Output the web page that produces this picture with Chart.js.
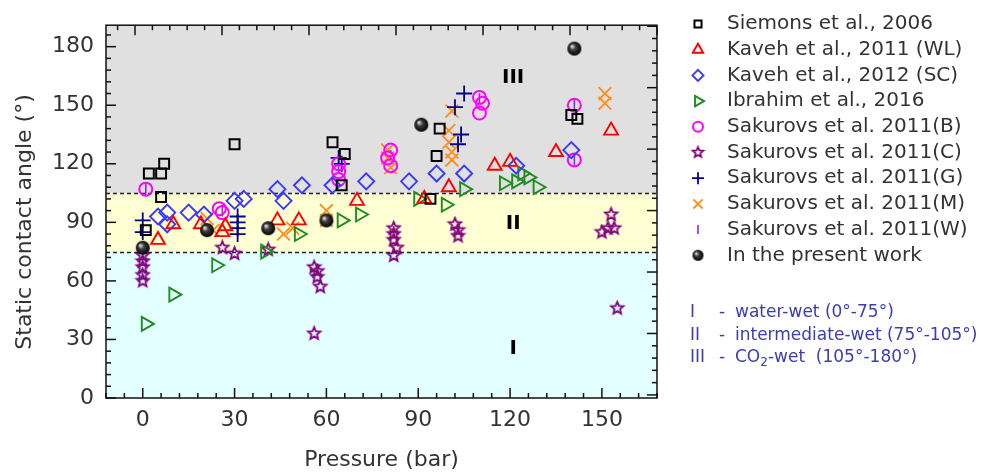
<!DOCTYPE html>
<html>
<head>
  <title>Static contact angle vs pressure</title>
  <script src="https://cdn.jsdelivr.net/npm/chart.js"></script>
  <style>
    body { margin: 0; background: #fff; }
  </style>
</head>
<body>
<canvas id="angleChart" width="987" height="474"></canvas>

<script>
// data: [pressure (bar), contact angle (deg)]
const siemons = [[1,86],[2,115],[6,115],[7,120],[6,103],[30,130],[62,131],[66,125],[65,109],[96,124],[97,138],[94,102],[140,145],[142,143]];
const kaveh2011 = [[5,81],[10,89],[19,89],[27,88],[26,85],[44,91],[51,91],[70,101],[92,102],[100,108],[115,119],[120,121],[135,126],[153,137]];
const kaveh2012 = [[5,93],[8,95],[8,89],[15,95],[20,94],[30,101],[33,102],[44,107],[46,101],[52,109],[62,109],[73,111],[87,111],[96,115],[105,115],[122,119],[140,127]];
const ibrahim = [[1,38],[10,53],[24,68],[40,75],[51,84],[65,91],[71,94],[90,102],[99,99],[105,107],[118,110],[122,111],[124,115],[126,113],[129,108]];
const sakurovsB = [[1,107],[25,97],[26,95],[64,120],[64,116],[64,112],[81,127],[80,123],[81,119],[110,154],[111,151],[110,146],[141,150],[141,122]];
const sakurovsC = [[0,73],[0,70],[0,67],[0,63],[0,60],[26,77],[30,74],[41,76],[56,67],[57,65],[57,62],[58,57],[56,33],[82,87],[82,84],[82,81],[83,77],[82,73],[102,89],[103,86],[103,83],[153,94],[152,87],[154,87],[150,85],[155,46]];
const sakurovsG = [[0,91],[0,85],[31,93],[31,90],[31,87],[31,84],[64,123],[65,120],[105,156],[102,149],[104,135],[103,130]];
const sakurovsM = [[21,92],[23,86],[46,84],[49,87],[60,96],[60,91],[80,127],[80,123],[81,118],[101,147],[100,137],[100,131],[101,126],[101,122],[151,156],[151,151]];
const sakurovsW = [[1,107],[26,96],[64,118],[81,124],[110,153],[141,150],[141,122]];
const presentWork = [[0,77],[21,86],[41,87],[60,91],[91,140],[141,179]];

const seriesNames = ['Siemons et al., 2006', 'Kaveh et al., 2011 (WL)', 'Kaveh et al., 2012 (SC)', 'Ibrahim et al., 2016',
  'Sakurovs et al. 2011(B)', 'Sakurovs et al. 2011(C)', 'Sakurovs et al. 2011(G)', 'Sakurovs et al. 2011(M)',
  'Sakurovs et al. 2011(W)', 'In the present work'];

const xTicks = [0, 30, 60, 90, 120, 150];
const yTicks = [0, 30, 60, 90, 120, 150, 180];
const zoneEdges = [0, 75, 105];           // water-wet | intermediate | CO2-wet
const zoneNames = ['I', 'II', 'III'];
const zoneNotes = ['water-wet (0°-75°)', 'intermediate-wet (75°-105°)', '-wet  (105°-180°)'];

const FONT = '"DejaVu Sans", sans-serif';

function makeStar(outer, color) {
  const c = document.createElement('canvas');
  const s = Math.ceil(outer * 2 + 4);
  c.width = s; c.height = s;
  const g = c.getContext('2d');
  g.strokeStyle = color;
  g.lineWidth = 1.8;
  g.beginPath();
  for (let k = 0; k < 10; k++) {
    const r = k % 2 ? outer * 0.45 : outer;
    const a = -Math.PI / 2 + k * Math.PI / 5;
    const px = s / 2 + r * Math.cos(a), py = s / 2 + r * Math.sin(a);
    if (k) g.lineTo(px, py); else g.moveTo(px, py);
  }
  g.closePath();
  g.stroke();
  return c;
}

function makeBall(r) {
  const c = document.createElement('canvas');
  const s = Math.ceil(r * 2 + 2);
  c.width = s; c.height = s;
  const g = c.getContext('2d');
  const m = s / 2;
  const grad = g.createRadialGradient(m - r * 0.35, m - r * 0.35, r * 0.1, m, m, r);
  grad.addColorStop(0, '#d8d8d8');
  grad.addColorStop(0.35, '#404040');
  grad.addColorStop(1, '#000');
  g.fillStyle = grad;
  g.beginPath();
  g.arc(m, m, r, 0, Math.PI * 2);
  g.fill();
  return c;
}

// marker look for each series (plot size, legend size)
const looks = [
  { color: '#000000', style: 'rect', r: 7, lr: 5, rot: 0, bw: 2 },
  { color: '#ff0000', style: 'triangle', r: 8, lr: 6, rot: 0, bw: 1.9 },
  { color: '#3a3aff', style: 'rectRot', r: 8, lr: 5.5, rot: 0, bw: 1.9 },
  { color: '#1e8c1e', style: 'triangle', r: 8, lr: 6, rot: 90, bw: 1.9 },
  { color: '#ff00ff', style: 'circle', r: 6.5, lr: 5, rot: 0, bw: 2 },
  { color: '#800080', style: makeStar(6.5, '#800080'), legend: makeStar(5.5, '#800080'), rot: 0, bw: 1 },
  { color: '#00008b', style: 'cross', r: 8, lr: 6, rot: 0, bw: 1.8 },
  { color: '#ff8c1a', style: 'crossRot', r: 9, lr: 6.5, rot: 0, bw: 1.8 },
  { color: '#8a2be2', style: 'line', r: 6, lr: 4.5, rot: 90, bw: 1.6 },
  { color: '#000000', style: makeBall(7), legend: makeBall(5.5), rot: 0, bw: 1 }
];

const allData = [siemons, kaveh2011, kaveh2012, ibrahim, sakurovsB, sakurovsC, sakurovsG, sakurovsM, sakurovsW, presentWork];

const datasets = allData.map((rows, i) => ({
  label: seriesNames[i],
  data: rows.map(([x, y]) => ({ x, y })),
  pointStyle: looks[i].style,
  pointRadius: looks[i].r || 7,
  pointRotation: looks[i].rot,
  pointBorderColor: looks[i].color,
  pointBackgroundColor: 'rgba(0,0,0,0)',
  pointBorderWidth: looks[i].bw,
  order: i === 9 ? -1 : i
}));

const zonePlugin = {
  id: 'zones',
  beforeDatasetsDraw(chart) {
    const { ctx, chartArea: a, scales: { x, y } } = chart;
    const fills = ['#e3ffff', '#ffffd4', '#e0e0e0'];
    const edges = zoneEdges.concat([y.max]);
    ctx.save();
    for (let k = 0; k < 3; k++) {
      const top = y.getPixelForValue(edges[k + 1]);
      const bot = y.getPixelForValue(edges[k]);
      ctx.fillStyle = fills[k];
      ctx.fillRect(a.left, top, a.right - a.left, bot - top);
    }
    ctx.strokeStyle = '#222';
    ctx.lineWidth = 1.5;
    ctx.setLineDash([4, 3]);
    [zoneEdges[1], zoneEdges[2]].forEach(v => {
      const py = Math.round(y.getPixelForValue(v)) + 0.5;
      ctx.beginPath();
      ctx.moveTo(a.left, py);
      ctx.lineTo(a.right, py);
      ctx.stroke();
    });
    ctx.setLineDash([]);
    // zone numerals inside the plot
    ctx.fillStyle = '#000';
    ctx.font = 'bold 20px ' + FONT;
    ctx.textAlign = 'center';
    ctx.textBaseline = 'middle';
    const numeralY = [25, 89, 164];
    zoneNames.forEach((t, k) => ctx.fillText(t, x.getPixelForValue(121), y.getPixelForValue(numeralY[k])));
    ctx.restore();
  }
};

function tickMarks(ctx, scale, from, to, horizontal, edge, dir) {
  for (let v = from; v <= to + 1e-6; v += 6) {
    const len = v % 30 === 0 ? 10 : 5;
    const p = scale.getPixelForValue(v);
    ctx.beginPath();
    if (horizontal) { ctx.moveTo(p, edge); ctx.lineTo(p, edge + dir * len); }
    else { ctx.moveTo(edge, p); ctx.lineTo(edge + dir * len, p); }
    ctx.stroke();
  }
}

const framePlugin = {
  id: 'frame',
  afterDraw(chart) {
    const { ctx, chartArea: a, scales } = chart;
    ctx.save();
    ctx.strokeStyle = '#111';
    ctx.lineWidth = 1.5;
    ctx.strokeRect(a.left, a.top, a.right - a.left, a.bottom - a.top);
    tickMarks(ctx, scales.x, -12, 168, true, a.bottom, -1);
    tickMarks(ctx, scales.x2, -6, 180, true, a.top, 1);
    tickMarks(ctx, scales.y, 0, 186, false, a.left, 1);
    tickMarks(ctx, scales.y2, 0, 180, false, a.right, -1);

    // y title
    ctx.fillStyle = '#333';
    ctx.font = '22px ' + FONT;
    ctx.textAlign = 'center';
    ctx.textBaseline = 'middle';
    ctx.save();
    ctx.translate(25, 222);
    ctx.rotate(-Math.PI / 2);
    ctx.fillText('Static contact angle (°)', 0, 0);
    ctx.restore();

    // legend
    ctx.font = '20px ' + FONT;
    ctx.textAlign = 'left';
    seriesNames.forEach((name, i) => {
      const ly = 24 + i * 25.7;
      const lk = looks[i];
      ctx.strokeStyle = lk.color;
      ctx.fillStyle = 'rgba(0,0,0,0)';
      ctx.lineWidth = lk.bw;
      Chart.helpers.drawPoint(ctx, {
        pointStyle: lk.legend || lk.style, radius: lk.lr || 5, rotation: lk.rot, borderWidth: lk.bw
      }, 698, ly);
      ctx.fillStyle = '#333';
      ctx.fillText(name, 727, ly);
    });

    // zone notes
    ctx.fillStyle = '#3c3cb4';
    ctx.font = '17px ' + FONT;
    const rowY = [313, 336, 358];
    zoneNames.forEach((t, k) => {
      ctx.fillText(t, 690, rowY[k]);
      ctx.fillText('-', 719, rowY[k]);
      let tx = 735;
      if (k === 2) {
        ctx.fillText('CO', tx, rowY[k]);
        tx += ctx.measureText('CO').width;
        ctx.font = '12px ' + FONT;
        ctx.fillText('2', tx, rowY[k] + 5);
        tx += ctx.measureText('2').width;
        ctx.font = '17px ' + FONT;
      }
      ctx.fillText(zoneNotes[k], tx, rowY[k]);
    });
    ctx.restore();
  }
};

const tickFont = { family: FONT, size: 22 };

new Chart(document.getElementById('angleChart').getContext('2d'), {
  type: 'scatter',
  data: { datasets },
  options: {
    responsive: false,
    animation: false,
    layout: { padding: { top: 13, right: 330, left: 0, bottom: 0 } },
    plugins: { legend: { display: false }, tooltip: { enabled: false } },
    scales: {
      x: {
        type: 'linear', position: 'bottom', min: -12, max: 168,
        grid: { display: false, drawTicks: false },
        border: { display: false },
        ticks: { font: tickFont, color: '#333', padding: 9, maxRotation: 0 },
        afterBuildTicks: s => { s.ticks = xTicks.map(v => ({ value: v })); },
        afterFit: s => { s.height = 76; },
        title: { display: true, text: 'Pressure (bar)', font: tickFont, color: '#333', padding: { top: 0, bottom: 1 } }
      },
      y: {
        type: 'linear', position: 'left', min: 0, max: 191,
        grid: { display: false, drawTicks: false },
        border: { display: false },
        ticks: { font: tickFont, color: '#333', padding: 12 },
        afterBuildTicks: s => { s.ticks = yTicks.map(v => ({ value: v })); },
        afterFit: s => { s.width = 106; }
      },
      x2: { type: 'linear', position: 'top', min: -10, max: 180, display: false },
      y2: { type: 'linear', position: 'right', min: -1.5, max: 180.5, display: false }
    }
  },
  plugins: [zonePlugin, framePlugin]
});
</script>
</body>
</html>
